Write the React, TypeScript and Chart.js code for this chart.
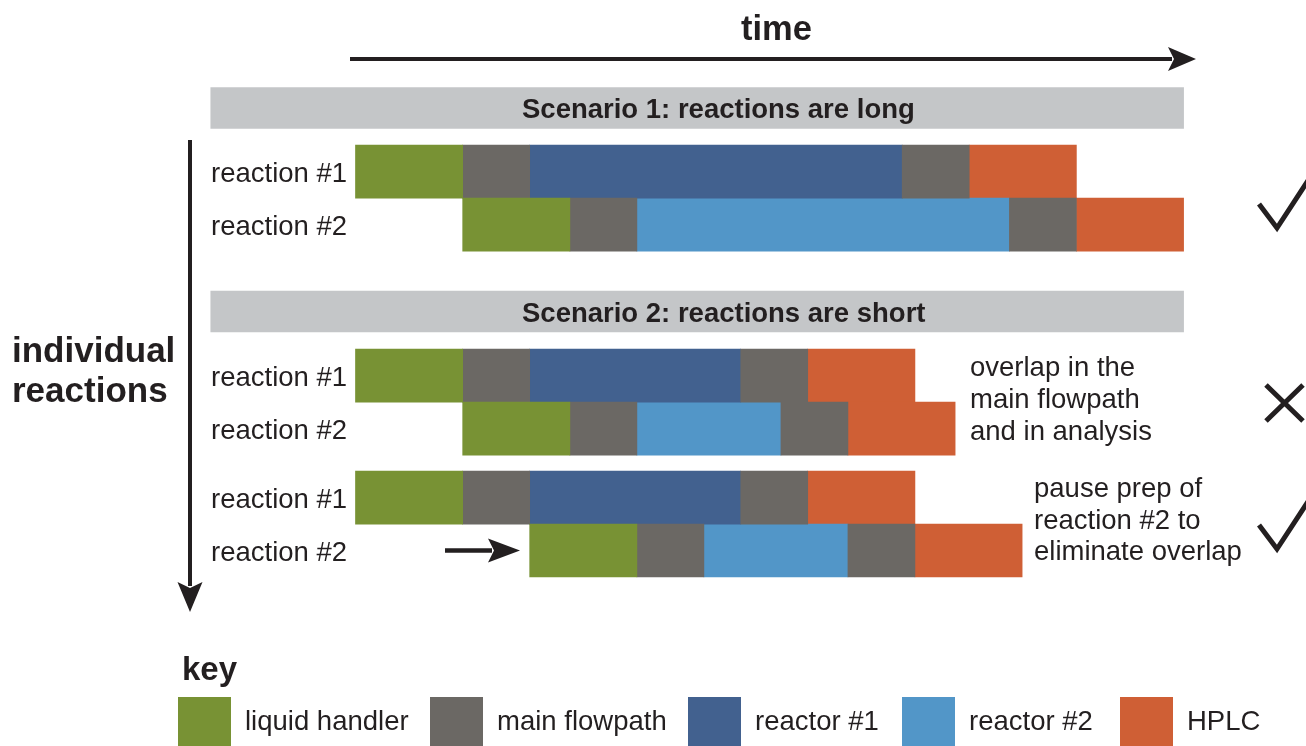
import React, { useEffect, useRef } from 'react';
import { Chart, registerables } from 'chart.js';

Chart.register(...registerables);

// ---- data ----
const phaseLabels = ['liquid handler', 'main flowpath', 'reactor #1', 'reactor #2', 'HPLC'];
const phaseColors = ['#789234', '#6b6864', '#42618f', '#5296c8', '#cf5f35'];

// phase sequence of each reaction (indices into phaseLabels)
const reaction1Phases = [0, 1, 2, 1, 4];
const reaction2Phases = [0, 1, 3, 1, 4];

// phase boundaries in time units (start of first phase ... end of last phase)
const s1Reaction1 = [0, 16, 26, 81.6, 91.6, 107.6];
const s1Reaction2 = [16, 32, 42, 97.6, 107.6, 123.6];
const s2Reaction1 = [0, 16, 26, 57.5, 67.5, 83.5];
const s2Reaction2 = [16, 32, 42, 63.5, 73.5, 89.5];
const s3Reaction1 = [0, 16, 26, 57.5, 67.5, 83.5];
const s3Reaction2 = [26, 42, 52, 73.5, 83.5, 99.5];

const scenarioTitles = ['Scenario 1: reactions are long', 'Scenario 2: reactions are short'];
const scenarioSpan = [-21.6, 123.6];
const rowLabels = ['reaction #1', 'reaction #2', 'reaction #1', 'reaction #2', 'reaction #1', 'reaction #2'];
const annotationOverlap = ['overlap in the', 'main flowpath', 'and in analysis'];
const annotationPause = ['pause prep of', 'reaction #2 to', 'eliminate overlap'];
const axisTitleX = 'time';
const axisTitleY = ['individual', 'reactions'];
const keyTitle = 'key';

// ---- layout (lanes on the vertical scale) ----
const HEADER_LANES = [0, 3.84];
const ROW_LANES = [1.2, 2.2, 5.05, 6.05, 7.35, 8.35];
const X_MIN = -53.06;
const X_MAX = 141.87;
const Y_MIN = -2.038;
const Y_MAX = 12.038;

const INK = '#231f20';
const FONT = '"Liberation Sans", Arial, Helvetica, sans-serif';
const f = (size: number, bold = false) => `${bold ? 'bold ' : ''}${size}px ${FONT}`;

function drawArrow(ctx: CanvasRenderingContext2D, x1: number, y1: number, x2: number, y2: number, headLen: number, headHalf: number, width: number) {
  const ang = Math.atan2(y2 - y1, x2 - x1);
  const cos = Math.cos(ang), sin = Math.sin(ang);
  const bx = x2 - headLen * cos, by = y2 - headLen * sin;
  ctx.save();
  ctx.strokeStyle = INK;
  ctx.fillStyle = INK;
  ctx.lineWidth = width;
  ctx.beginPath();
  ctx.moveTo(x1, y1);
  ctx.lineTo(bx + 4 * cos, by + 4 * sin);
  ctx.stroke();
  const notch = 6;
  ctx.beginPath();
  ctx.moveTo(x2, y2);
  ctx.lineTo(bx - headHalf * sin, by + headHalf * cos);
  ctx.lineTo(bx + notch * cos, by + notch * sin);
  ctx.lineTo(bx + headHalf * sin, by - headHalf * cos);
  ctx.closePath();
  ctx.fill();
  ctx.restore();
}

const decorPlugin = {
  id: 'decor',
  afterDraw(chart: any) {
    const ctx: CanvasRenderingContext2D = chart.ctx;
    const ys = chart.scales.y;
    ctx.save();
    ctx.fillStyle = INK;
    ctx.textBaseline = 'alphabetic';

    // time axis
    ctx.font = f(34.5, true);
    ctx.textAlign = 'center';
    ctx.fillText(axisTitleX, 776.5, 40);
    drawArrow(ctx, 350, 59, 1196, 59, 28, 12, 4);

    // scenario headers
    ctx.font = f(27.5, true);
    ctx.textAlign = 'left';
    scenarioTitles.forEach((t, i) => {
      ctx.fillText(t, 522, ys.getPixelForValue(HEADER_LANES[i]) + 10);
    });

    // row labels
    ctx.font = f(27.5);
    rowLabels.forEach((t, i) => {
      ctx.fillText(t, 211, ys.getPixelForValue(ROW_LANES[i]) + 10);
    });

    // vertical axis title + arrow
    ctx.font = f(35, true);
    ctx.fillText(axisTitleY[0], 12, 362);
    ctx.fillText(axisTitleY[1], 12, 402);
    drawArrow(ctx, 190, 140, 190, 612, 30, 12.5, 4);

    // pause arrow
    const pr = ys.getPixelForValue(ROW_LANES[5]);
    drawArrow(ctx, 445, pr, 520, pr, 32, 12, 4.5);

    // annotations
    ctx.font = f(27.5);
    annotationOverlap.forEach((t, i) => ctx.fillText(t, 970, 376 + i * 32));
    annotationPause.forEach((t, i) => ctx.fillText(t, 1034, 497 + i * 31.5));

    // verdict marks
    ctx.strokeStyle = INK;
    ctx.lineWidth = 5;
    ctx.lineJoin = 'miter';
    ctx.lineCap = 'butt';
    const check = (x: number, y: number) => {
      ctx.beginPath();
      ctx.moveTo(x, y);
      ctx.lineTo(x + 18, y + 24);
      ctx.lineTo(x + 52, y - 28);
      ctx.stroke();
    };
    check(1259, 204);
    check(1259, 525);
    ctx.beginPath();
    ctx.moveTo(1266, 385);
    ctx.lineTo(1303, 421);
    ctx.moveTo(1266, 421);
    ctx.lineTo(1303, 385);
    ctx.stroke();

    // key
    ctx.fillStyle = INK;
    ctx.font = f(33, true);
    ctx.fillText(keyTitle, 182, 680);
    const keyX = [178, 430, 688, 902, 1120];
    const ds = chart.data.datasets.slice(1);
    ds.forEach((d: any, i: number) => {
      ctx.fillStyle = d.backgroundColor;
      ctx.fillRect(keyX[i], 697, 53, 60);
      ctx.fillStyle = INK;
      ctx.font = f(27.5);
      ctx.fillText(d.label, keyX[i] + 67, 730);
    });
    ctx.restore();
  },
};

export default function App() {
  const ref = useRef<HTMLCanvasElement | null>(null);

  useEffect(() => {
    document.body.style.margin = '0';
    const rows = [
      { b: s1Reaction1, p: reaction1Phases },
      { b: s1Reaction2, p: reaction2Phases },
      { b: s2Reaction1, p: reaction1Phases },
      { b: s2Reaction2, p: reaction2Phases },
      { b: s3Reaction1, p: reaction1Phases },
      { b: s3Reaction2, p: reaction2Phases },
    ];
    const datasets: any[] = [
      {
        label: 'scenario',
        data: HEADER_LANES.map((l) => ({ x: scenarioSpan, y: l })),
        backgroundColor: '#c4c6c8',
        barThickness: 41,
      },
    ];
    phaseLabels.forEach((lab, pi) => {
      const data: any[] = [];
      rows.forEach((r, ri) =>
        r.p.forEach((ph, k) => {
          if (ph === pi) data.push({ x: [r.b[k], r.b[k + 1]], y: ROW_LANES[ri] });
        })
      );
      datasets.push({ label: lab, data, backgroundColor: phaseColors[pi], barThickness: 53 });
    });

    const chart = new Chart(ref.current as HTMLCanvasElement, {
      type: 'bar',
      data: { datasets },
      options: {
        animation: false,
        responsive: false,
        indexAxis: 'y',
        layout: { padding: 0 },
        datasets: { bar: { grouped: false, borderWidth: 0 } } as any,
        plugins: {
          legend: { display: false },
          tooltip: { enabled: false },
          title: { display: false },
        },
        scales: {
          x: { type: 'linear', display: false, offset: false, min: X_MIN, max: X_MAX },
          y: { type: 'linear', display: false, offset: false, min: Y_MIN, max: Y_MAX, reverse: true },
        },
      } as any,
      plugins: [decorPlugin],
    });
    return () => chart.destroy();
  }, []);

  return (
    <div style={{ width: 1306, height: 746, position: 'relative', background: '#ffffff' }}>
      <canvas ref={ref} width={1306} height={746} style={{ display: 'block', width: 1306, height: 746 }} />
    </div>
  );
}
